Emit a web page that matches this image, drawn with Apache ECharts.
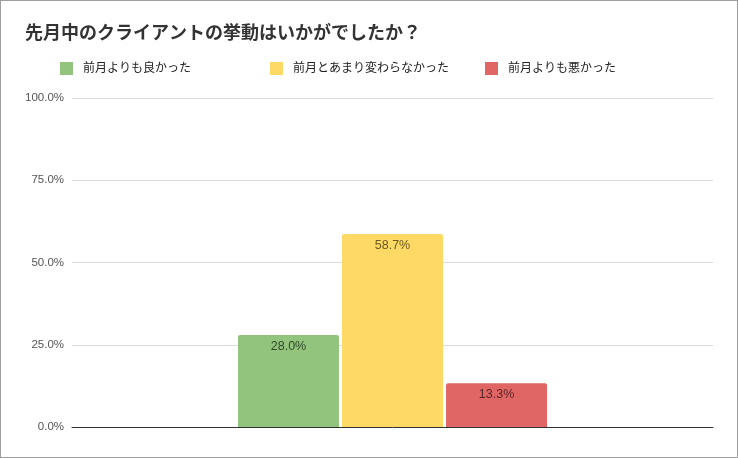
<!DOCTYPE html>
<html><head><meta charset="utf-8">
<script src="https://cdn.jsdelivr.net/npm/echarts@6/dist/echarts.min.js"></script>
<style>
html,body{margin:0;padding:0;background:#fff;}
#c{width:736px;height:456px;border:1px solid #9e9e9e;}
</style></head>
<body><div id="c"></div>
<script>
const title = '先月中のクライアントの挙動はいかがでしたか？';
const category = [''];
const seriesNames = ['前月よりも良かった', '前月とあまり変わらなかった', '前月よりも悪かった'];
const seriesValues = [28.0, 58.7, 13.3];
const seriesColors = ['#93c47d', '#ffd966', '#e06666'];
const labelColors = ['#2f4a26', '#6a5a1c', '#5c2525'];
const yTicks = [0, 25, 50, 75, 100];

const FONT = '"Liberation Sans", Arial, "Noto Sans CJK JP", sans-serif';
const chart = echarts.init(document.getElementById('c'));
const legendLeft = [59, 269, 484];
chart.setOption({
  animation: false,
  textStyle: {fontFamily: FONT},
  title: {text: title, left: 19, top: 19,
    textStyle: {fontSize: 18, fontWeight: 'bold', color: '#333', fontFamily: FONT}},
  legend: seriesNames.map((n, i) => ({
    data: [n], left: legendLeft[i], top: 61, padding: 0, itemWidth: 13, itemHeight: 13, itemGap: 10,
    icon: 'rect', textStyle: {fontSize: 12, color: '#222', padding: [0, 0, 0, 5]}
  })),
  grid: {left: 71, right: 24, top: 97, bottom: 30},
  xAxis: {type: 'category', data: category,
    axisLine: {lineStyle: {color: '#333', width: 1}}, axisTick: {show: false}, axisLabel: {show: false}},
  yAxis: {type: 'value', min: yTicks[0], max: yTicks[yTicks.length - 1], interval: 25,
    axisLabel: {formatter: v => v.toFixed(1) + '%', fontSize: 11.5, color: '#555', margin: 8},
    splitLine: {lineStyle: {color: '#d9d9d9'}}, axisLine: {show: false}, axisTick: {show: false}},
  series: seriesNames.map((n, i) => ({
    name: n, type: 'bar', data: [seriesValues[i]], barWidth: 101, barGap: '3%',
    itemStyle: {color: seriesColors[i], borderRadius: [2, 2, 0, 0]},
    label: {show: true, position: 'insideTop', distance: 5, fontSize: 12.5,
      color: labelColors[i], formatter: p => p.value.toFixed(1) + '%'}
  }))
});
</script></body></html>
